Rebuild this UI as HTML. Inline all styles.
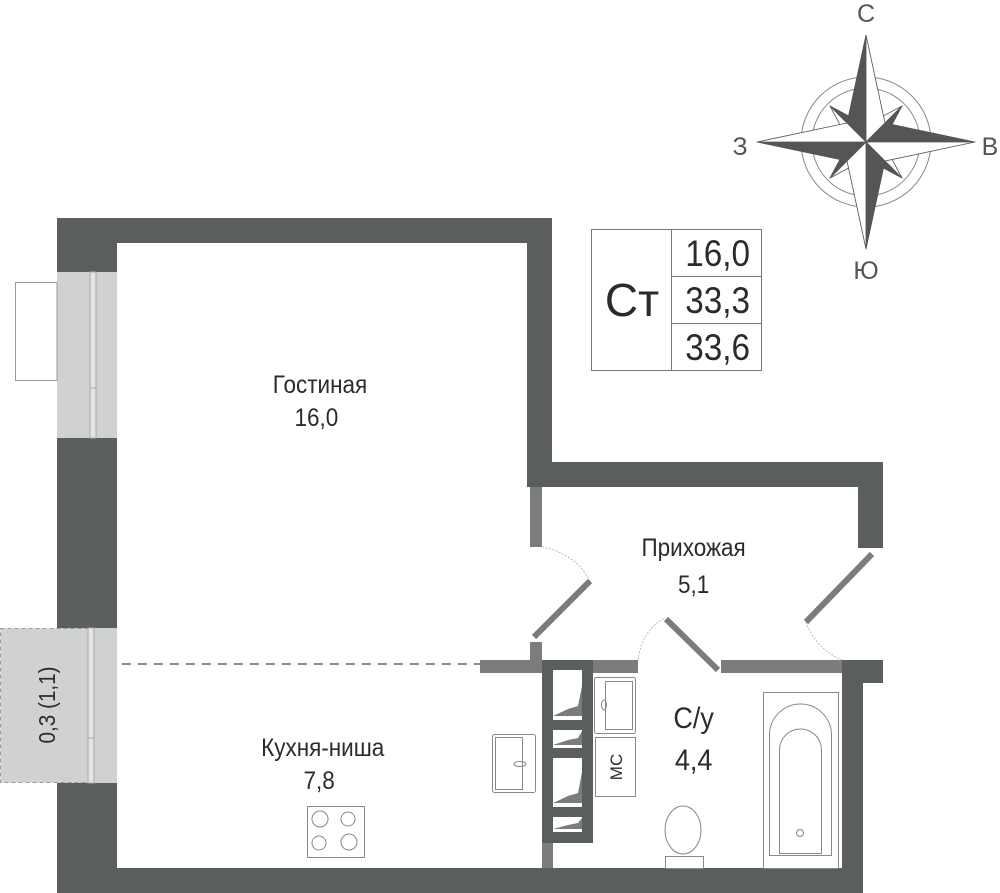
<!DOCTYPE html>
<html><head><meta charset="utf-8"><style>
html,body{margin:0;padding:0;background:#fff;}
svg{display:block;}
text{font-family:"Liberation Sans",sans-serif;fill:#2b2b2b;}
</style></head><body>
<svg width="1000" height="893" viewBox="0 0 1000 893" xmlns="http://www.w3.org/2000/svg">
<g fill="#5b5e5f">
<rect x="57" y="218" width="495" height="25"/>
<rect x="57" y="218" width="60" height="675"/>
<rect x="527" y="218" width="25" height="269"/>
<rect x="527" y="462" width="356" height="25"/>
<rect x="858" y="462" width="25" height="86"/>
<rect x="842" y="660" width="41" height="23"/>
<rect x="842" y="660" width="21" height="233"/>
<rect x="57" y="868" width="806" height="25"/>
</g>
<rect x="57" y="272" width="60" height="166" fill="#d0d1d2"/>
<rect x="90" y="272" width="6" height="166" fill="#e4e4e5" stroke="#a8a9aa" stroke-width="1"/>
<line x1="90" y1="388" x2="96" y2="388" stroke="#a8a9aa"/>
<rect x="15.5" y="282.5" width="41.5" height="98" fill="#fff" stroke="#9a9b9c"/>
<rect x="57" y="628" width="60" height="155" fill="#d0d1d2"/>
<rect x="0.5" y="628.5" width="88" height="154" fill="#d0d1d2" stroke="#999" stroke-dasharray="4 3"/>
<rect x="88" y="628" width="6" height="155" fill="#e4e4e5" stroke="#a8a9aa" stroke-width="1"/>
<line x1="88" y1="738" x2="94" y2="738" stroke="#a8a9aa"/>
<text x="0" y="0" font-size="23" text-anchor="middle" transform="translate(55,705) rotate(-90) scale(0.9,1)">0,3 (1,1)</text>
<g fill="#7a7c7d">
<rect x="530" y="487" width="12" height="60"/>
<rect x="530" y="642" width="12" height="25"/>
<rect x="480" y="660" width="158" height="13"/>
<rect x="721" y="660" width="121" height="13"/>
<rect x="542" y="843" width="11" height="25"/>
</g>
<g stroke="#7a7c7d" stroke-width="6">
<line x1="534" y1="637" x2="590" y2="581"/>
<line x1="666" y1="619" x2="718" y2="670"/>
<line x1="806" y1="622" x2="872" y2="554"/>
</g>
<g fill="none" stroke="#aaa" stroke-width="0.8" stroke-dasharray="2 1.5">
<path d="M542 547 Q575 553 590 581"/>
<path d="M638 660 Q642 630 665 618"/>
<path d="M806 622 Q815 648 842 660"/>
</g>
<line x1="122" y1="664" x2="480" y2="664" stroke="#666" stroke-width="1.5" stroke-dasharray="9 7"/>
<rect x="542" y="660" width="51" height="183" fill="#5b5e5f"/>
<g fill="#fff">
<rect x="553" y="670" width="29" height="50"/>
<rect x="553" y="730" width="29" height="18"/>
<rect x="553" y="758" width="29" height="49"/>
<rect x="553" y="817" width="29" height="15"/>
</g>
<g fill="#7a7c7d">
<polygon points="553,716 568,709 578,706 582,686 582,716"/>
<polygon points="553,745 568,740 578,738 582,731 582,745"/>
<polygon points="553,803 568,796 578,793 582,772 582,803"/>
<polygon points="553,829 568,825 578,823 582,818 582,829"/>
</g>
<g fill="none" stroke="#888" stroke-width="1">
<rect x="594.5" y="677.5" width="41" height="56" rx="2"/>
<rect x="605.5" y="681.5" width="27" height="48"/>
<rect x="595.5" y="737.5" width="40" height="59"/>
<rect x="492.5" y="734.5" width="43" height="58" rx="2"/>
<rect x="495.5" y="737.5" width="27" height="52"/>
<rect x="763.5" y="692.5" width="75" height="176"/>
<path d="M769.5 855.5 V735 A31 31 0 0 1 831.5 735 V855.5 Z"/>
<path d="M779.5 853.5 V750 A21 21 0 0 1 821.5 750 V853.5 Z"/>
<circle cx="800" cy="833" r="3.5"/>
<ellipse cx="683" cy="830" rx="18" ry="24" fill="#fff"/>
<rect x="665.5" y="856.5" width="38" height="12" fill="#fff"/>
<rect x="307.5" y="806.5" width="57" height="51"/>
<circle cx="320" cy="819" r="8"/><circle cx="348" cy="819" r="7"/>
<circle cx="319" cy="843" r="7"/><circle cx="349" cy="842" r="8"/>
<ellipse cx="520" cy="764" rx="6" ry="2.5"/>
<ellipse cx="604" cy="705" rx="2.5" ry="5"/>
</g>
<text x="0" y="0" font-size="17" text-anchor="middle" transform="translate(622,767) rotate(-90)">МС</text>
<g font-size="25" text-anchor="middle">
<text x="320" y="393" transform="translate(32,0) scale(0.9,1)">Гостиная</text>
<text x="316" y="426" transform="translate(32,0) scale(0.9,1)">16,0</text>
<text x="694" y="556" transform="translate(69,0) scale(0.9,1)">Прихожая</text>
<text x="694" y="593" transform="translate(69,0) scale(0.9,1)">5,1</text>
<text x="323" y="756" transform="translate(32,0) scale(0.9,1)">Кухня-ниша</text>
<text x="319" y="789" transform="translate(32,0) scale(0.9,1)">7,8</text>
</g>
<g font-size="30" text-anchor="middle">
<text x="694" y="728" transform="translate(69,0) scale(0.9,1)">С/у</text>
<text x="694" y="770" transform="translate(69,0) scale(0.9,1)">4,4</text>
</g>
<g fill="none" stroke="#777" stroke-width="1">
<rect x="591.5" y="229.5" width="170" height="141"/>
<line x1="671.5" y1="229" x2="671.5" y2="371"/>
<line x1="671" y1="276.5" x2="762" y2="276.5"/>
<line x1="671" y1="323.5" x2="762" y2="323.5"/>
</g>
<text x="632" y="316" font-size="46" text-anchor="middle">Ст</text>
<g font-size="37" text-anchor="end">
<text x="750" y="266" transform="translate(75,0) scale(0.9,1)">16,0</text>
<text x="750" y="313" transform="translate(75,0) scale(0.9,1)">33,3</text>
<text x="750" y="360" transform="translate(75,0) scale(0.9,1)">33,6</text>
</g>
<g transform="translate(866,142)">
<circle r="65" fill="none" stroke="#888" stroke-width="1"/>
<circle r="54" fill="none" stroke="#888" stroke-width="1"/>
<g stroke="#555" stroke-width="0.8" stroke-linejoin="round">
<g><polygon points="0,0 36,-36 6,-20" fill="#fff"/><polygon points="0,0 36,-36 20,-6" fill="#555"/></g>
<g transform="rotate(90)"><polygon points="0,0 36,-36 6,-20" fill="#fff"/><polygon points="0,0 36,-36 20,-6" fill="#555"/></g>
<g transform="rotate(180)"><polygon points="0,0 36,-36 6,-20" fill="#fff"/><polygon points="0,0 36,-36 20,-6" fill="#555"/></g>
<g transform="rotate(270)"><polygon points="0,0 36,-36 6,-20" fill="#fff"/><polygon points="0,0 36,-36 20,-6" fill="#555"/></g>
<g><polygon points="0,0 0,-107 -19,-19" fill="#555"/><polygon points="0,0 0,-107 19,-19" fill="#fff"/></g>
<g transform="rotate(90)"><polygon points="0,0 0,-109 -19,-19" fill="#555"/><polygon points="0,0 0,-109 19,-19" fill="#fff"/></g>
<g transform="rotate(180)"><polygon points="0,0 0,-107 -19,-19" fill="#555"/><polygon points="0,0 0,-107 19,-19" fill="#fff"/></g>
<g transform="rotate(270)"><polygon points="0,0 0,-109 -19,-19" fill="#555"/><polygon points="0,0 0,-109 19,-19" fill="#fff"/></g>
</g>
</g>
<g font-size="25" text-anchor="middle">
<text x="866" y="22" style="fill:#555">С</text>
<text x="866" y="279" style="fill:#555">Ю</text>
<text x="740" y="155" style="fill:#555">З</text>
<text x="990" y="155" style="fill:#555">В</text>
</g>
</svg>
</body></html>
